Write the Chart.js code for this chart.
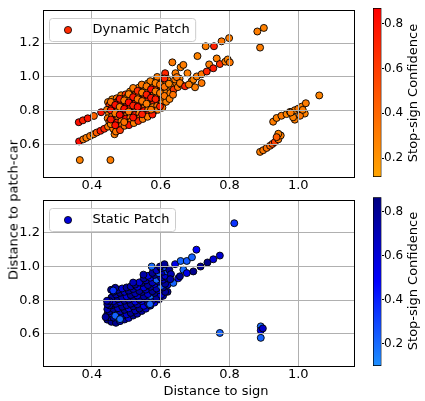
<!DOCTYPE html>
<html>
<head>
<meta charset="utf-8">
<script src="https://cdn.jsdelivr.net/npm/chart.js@4.4.1/dist/chart.umd.min.js"></script>
<style>
  html, body { margin: 0; padding: 0; background: #fff; }
  body { width: 425px; height: 401px; position: relative; overflow: hidden; }
  canvas { position: absolute; }
  .lbl { position: absolute; font: 13px "DejaVu Sans", sans-serif; line-height: 15px; white-space: nowrap; color: #000; }
</style>
</head>
<body>
<canvas id="cTop" width="360" height="190" style="left:0;top:0"></canvas>
<canvas id="cBot" width="360" height="211" style="left:0;top:190px"></canvas>
<canvas id="cbTop" width="65" height="190" style="left:360px;top:0"></canvas>
<canvas id="cbBot" width="65" height="211" style="left:360px;top:190px"></canvas>
<div class="lbl" style="left:12.5px;top:210px;transform:translate(-50%,-50%) rotate(-90deg)">Distance to patch-car</div>
<div class="lbl" style="left:216px;top:390px;transform:translate(-50%,-50%)">Distance to sign</div>
<div class="lbl" style="left:411.5px;top:93px;transform:translate(-50%,-50%) rotate(-90deg)">Stop-sign Confidence</div>
<div class="lbl" style="left:411.5px;top:281px;transform:translate(-50%,-50%) rotate(-90deg)">Stop-sign Confidence</div>
<script>
// ---------------- data ----------------
const dynName = 'Dynamic Patch';
const staName = 'Static Patch';
const xTickVals = [0.4, 0.6, 0.8, 1.0];
const xTickLabels = ['0.4', '0.6', '0.8', '1.0'];
const yTickVals = [0.6, 0.8, 1.0, 1.2];
const yTickLabels = ['0.6', '0.8', '1.0', '1.2'];
const cbTickVals = [0.2, 0.4, 0.6, 0.8];
const cbTickLabels = ['0.2', '0.4', '0.6', '0.8'];
const xRange = [0.258, 1.162];
const yRange = [0.41, 1.39];
const dynCRange = [0.116, 0.87];
const staCRange = [0.099, 0.866];

const dynX = [
  0.362,0.374,0.388,0.406,0.427,0.363,0.375,0.384,0.395,0.405,0.414,0.425,0.436,0.365,0.454,
  0.447,0.459,0.472,0.485,0.498,0.511,0.524,0.537,0.550,0.563,0.576,0.589,0.602,0.614,
  0.451,0.464,0.477,0.490,0.503,0.516,0.529,0.542,0.555,0.568,0.581,0.594,0.607,0.620,
  0.444,0.457,0.470,0.483,0.496,0.509,0.522,0.535,0.548,0.561,0.574,0.587,0.600,0.613,
  0.450,0.463,0.476,0.489,0.502,0.515,0.528,0.541,0.554,0.567,0.580,0.593,0.606,0.619,
  0.446,0.459,0.472,0.485,0.498,0.511,0.524,0.537,0.550,0.563,0.576,0.589,0.602,0.615,
  0.451,0.464,0.477,0.490,0.503,0.516,0.529,0.542,0.555,0.568,0.581,0.594,0.607,0.620,
  0.447,0.460,0.473,0.486,0.499,0.512,0.525,0.538,0.551,0.564,0.577,0.590,0.603,0.616,
  0.462,0.475,0.488,0.501,0.514,0.527,0.540,0.553,0.566,0.579,0.592,0.605,
  0.466,0.470,0.482,0.495,0.508,0.522,0.535,0.548,0.562,0.576,0.455,
  0.520,0.545,0.570,0.590,0.613,
  0.455,0.481,0.507,0.533,0.559,0.585,0.611,
  0.468,0.494,0.520,0.546,0.572,0.598,
  0.455,0.481,0.507,0.533,0.559,0.585,0.611,
  0.468,0.494,0.520,0.546,0.572,0.598,
  0.455,0.481,0.507,0.533,0.559,0.585,0.611,
  0.468,0.494,0.520,0.546,0.572,0.598,
  0.628,0.632,0.638,0.645,0.650,0.626,0.636,0.624,0.642,0.655,0.660,
  0.634,0.658,0.666,0.707,0.731,0.755,0.777,0.799,
  0.643,0.647,0.678,0.690,0.695,0.705,0.719,0.734,0.741,0.753,0.763,0.772,0.788,0.795,0.801,
  0.656,0.671,0.700,0.719,0.682,
  0.927,0.937,0.951,0.966,0.976,0.990,1.000,1.010,1.022,1.019,1.005,0.990,0.985,0.978,1.013,
  0.889,0.898,0.908,0.918,0.925,0.932,0.942,0.949,0.942,0.937,
  0.881,0.900,0.889,1.061
];
const dynY = [
  0.733,0.744,0.756,0.770,0.792,0.620,0.632,0.641,0.652,0.662,0.672,0.682,0.694,0.510,0.510,
  0.852,0.868,0.874,0.892,0.897,0.914,0.921,0.938,0.944,0.962,0.966,0.985,0.990,1.006,
  0.834,0.848,0.858,0.869,0.881,0.889,0.903,0.912,0.924,0.933,0.948,0.957,0.967,0.982,
  0.806,0.814,0.829,0.838,0.852,0.861,0.875,0.884,0.898,0.907,0.921,0.930,0.944,0.953,
  0.784,0.795,0.807,0.818,0.830,0.841,0.853,0.863,0.876,0.887,0.898,0.909,0.922,0.931,
  0.756,0.768,0.777,0.791,0.800,0.814,0.822,0.836,0.846,0.859,0.868,0.882,0.891,0.905,
  0.735,0.744,0.758,0.766,0.781,0.789,0.803,0.812,0.826,0.834,0.848,0.857,0.870,0.878,
  0.707,0.717,0.731,0.740,0.754,0.762,0.776,0.785,0.799,0.808,0.822,0.830,0.844,0.853,
  0.695,0.706,0.716,0.729,0.738,0.751,0.760,0.774,0.782,0.796,0.806,0.819,
  0.662,0.678,0.686,0.712,0.716,0.728,0.740,0.752,0.765,0.778,0.722,
  0.935,0.955,0.975,1.000,1.022,
  0.853,0.871,0.899,0.918,0.945,0.964,0.991,
  0.835,0.862,0.881,0.908,0.927,0.955,
  0.803,0.823,0.850,0.869,0.896,0.915,0.942,
  0.785,0.812,0.831,0.858,0.877,0.905,
  0.749,0.777,0.796,0.823,0.842,0.869,0.888,
  0.715,0.734,0.761,0.780,0.807,0.826,
  0.905,0.945,0.925,0.965,0.940,0.870,0.895,0.960,0.985,0.990,0.955,
  1.086,1.057,1.071,1.123,1.181,1.181,1.210,1.229,
  1.022,0.999,1.022,0.975,0.984,1.003,1.016,1.032,1.074,1.051,1.109,1.076,1.090,1.103,1.086,
  0.964,0.945,0.939,0.964,0.955,
  0.736,0.758,0.771,0.781,0.794,0.804,0.813,0.825,0.845,0.784,0.771,0.748,0.762,0.790,0.806,
  0.558,0.568,0.581,0.594,0.605,0.616,0.632,0.655,0.665,0.645,
  1.268,1.289,1.173,0.891
];
const dynC = [
  0.80,0.72,0.78,0.42,0.78,0.82,0.35,0.30,0.32,0.30,0.45,0.76,0.70,0.28,0.30,
  0.30,0.22,0.35,0.28,0.62,0.25,0.32,0.27,0.55,0.24,0.30,0.26,0.33,0.28,
  0.65,0.30,0.72,0.33,0.28,0.70,0.30,0.38,0.26,0.62,0.29,0.34,0.25,0.30,
  0.32,0.75,0.30,0.80,0.36,0.30,0.78,0.33,0.68,0.30,0.27,0.72,0.31,0.26,
  0.28,0.70,0.34,0.82,0.75,0.32,0.80,0.30,0.66,0.35,0.29,0.76,0.30,0.27,
  0.33,0.30,0.78,0.35,0.84,0.70,0.34,0.77,0.31,0.64,0.28,0.33,0.70,0.29,
  0.30,0.72,0.36,0.80,0.33,0.82,0.30,0.74,0.36,0.30,0.68,0.31,0.27,0.33,
  0.34,0.28,0.76,0.32,0.80,0.35,0.72,0.30,0.78,0.33,0.29,0.35,0.30,0.28,
  0.30,0.66,0.34,0.79,0.31,0.74,0.33,0.30,0.70,0.34,0.29,0.31,
  0.30,0.33,0.62,0.36,0.80,0.30,0.70,0.32,0.29,0.75,0.27,
  0.30,0.33,0.27,0.31,0.70,
  0.36,0.74,0.30,0.66,0.32,0.28,0.72,
  0.80,0.34,0.76,0.30,0.82,0.33,
  0.78,0.30,0.84,0.36,0.74,0.30,0.35,
  0.32,0.80,0.72,0.34,0.78,0.30,
  0.76,0.82,0.35,0.80,0.30,0.72,0.33,
  0.80,0.36,0.78,0.74,0.32,0.70,
  0.30,0.28,0.62,0.30,0.33,0.29,0.35,0.27,0.31,0.28,0.30,
  0.32,0.28,0.30,0.27,0.29,0.72,0.33,0.30,
  0.30,0.34,0.29,0.31,0.27,0.30,0.33,0.70,0.30,0.75,0.28,0.62,0.30,0.27,0.32,
  0.31,0.70,0.29,0.32,0.30,
  0.30,0.28,0.32,0.27,0.30,0.29,0.31,0.28,0.30,0.27,0.33,0.30,0.28,0.31,0.29,
  0.30,0.32,0.35,0.40,0.50,0.58,0.32,0.30,0.28,0.45,
  0.30,0.28,0.30,0.27
];

const staX = [
  0.445,0.457,0.470,0.482,0.495,0.507,0.520,0.532,0.545,0.557,0.570,0.582,0.595,0.607,0.620,
  0.451,0.463,0.476,0.488,0.501,0.513,0.526,0.538,0.551,0.563,0.576,0.588,0.601,0.613,
  0.445,0.457,0.470,0.482,0.495,0.507,0.520,0.532,0.545,0.557,0.570,0.582,0.595,0.607,0.620,
  0.451,0.463,0.476,0.488,0.501,0.513,0.526,0.538,0.551,0.563,0.576,0.588,0.601,0.613,
  0.445,0.457,0.470,0.482,0.495,0.507,0.520,0.532,0.545,0.557,0.570,0.582,0.595,0.607,0.620,
  0.451,0.463,0.476,0.488,0.501,0.513,0.526,0.538,0.551,0.563,0.576,0.588,0.601,0.613,
  0.445,0.457,0.470,0.482,0.495,0.507,0.520,0.532,0.545,0.557,0.570,0.582,0.595,0.607,0.620,
  0.451,0.463,0.476,0.488,0.501,0.513,0.526,0.538,0.551,0.563,0.576,0.588,0.601,0.613,
  0.456,0.468,0.462,0.444,0.440,0.468,0.482,0.569,0.574,0.598,0.611,0.520,0.550,
  0.625,0.637,0.642,0.651,0.656,0.658,0.666,0.676,0.676,0.691,0.695,0.704,0.716,0.736,0.753,0.772,0.630,0.628,
  0.814,0.772,0.891,0.891,0.897,0.891
];
const staY = [
  0.685,0.672,0.666,0.676,0.686,0.695,0.709,0.720,0.736,0.750,0.768,0.786,0.805,0.826,0.850,
  0.700,0.697,0.698,0.707,0.716,0.725,0.739,0.751,0.767,0.782,0.800,0.815,0.832,0.850,
  0.717,0.722,0.725,0.734,0.743,0.752,0.764,0.776,0.795,0.809,0.826,0.843,0.860,0.876,0.892,
  0.735,0.748,0.753,0.762,0.771,0.779,0.792,0.805,0.823,0.837,0.854,0.870,0.884,0.898,
  0.747,0.770,0.779,0.789,0.797,0.804,0.815,0.828,0.849,0.863,0.880,0.897,0.910,0.922,0.931,
  0.770,0.795,0.806,0.816,0.824,0.831,0.842,0.855,0.876,0.890,0.906,0.922,0.935,0.945,
  0.777,0.816,0.834,0.844,0.850,0.857,0.867,0.880,0.903,0.918,0.934,0.950,0.961,0.969,0.970,
  0.795,0.850,0.862,0.870,0.876,0.882,0.893,0.906,0.930,0.945,0.962,0.978,0.990,0.996,
  0.862,0.874,0.858,0.797,0.700,0.708,0.688,0.777,1.000,1.000,1.014,0.905,0.952,
  0.981,0.903,1.014,0.930,0.942,1.033,0.981,0.961,1.033,1.055,0.971,1.100,1.000,1.024,1.043,1.065,0.955,0.925,
  1.257,0.606,0.645,0.621,0.633,0.577
];
const staC = [
  0.78,0.80,0.82,0.70,0.78,0.60,0.80,0.72,0.78,0.65,0.80,0.55,0.78,0.70,0.80,
  0.70,0.78,0.22,0.80,0.62,0.80,0.70,0.82,0.55,0.78,0.70,0.80,0.60,0.78,
  0.80,0.62,0.78,0.70,0.82,0.55,0.80,0.74,0.60,0.80,0.20,0.78,0.68,0.80,0.58,
  0.78,0.80,0.66,0.82,0.72,0.80,0.58,0.80,0.76,0.62,0.80,0.72,0.25,0.78,
  0.72,0.82,0.78,0.60,0.80,0.74,0.82,0.62,0.80,0.70,0.78,0.55,0.80,0.66,0.78,
  0.80,0.65,0.82,0.76,0.58,0.80,0.72,0.80,0.60,0.78,0.70,0.22,0.78,0.62,
  0.78,0.80,0.72,0.82,0.66,0.80,0.74,0.58,0.80,0.70,0.56,0.80,0.24,0.72,0.30,
  0.70,0.82,0.78,0.60,0.80,0.72,0.80,0.62,0.78,0.55,0.80,0.66,0.78,0.28,
  0.80,0.78,0.35,0.72,0.78,0.22,0.20,0.22,0.20,0.80,0.80,0.70,0.75,
  0.80,0.22,0.55,0.55,0.82,0.22,0.20,0.55,0.25,0.22,0.82,0.50,0.82,0.84,0.60,0.62,0.70,0.75,
  0.35,0.22,0.20,0.55,0.65,0.22
];

// ---------------- styling helpers ----------------
const FONT = '"DejaVu Sans", sans-serif';
Chart.defaults.font.family = FONT;
Chart.defaults.font.size = 13;
Chart.defaults.color = '#000';

function lerp(a, b, t) { return a + (b - a) * t; }
function clamp01(t) { return Math.max(0, Math.min(1, t)); }
function makeCmap(stops, range) {
  return function (v) {
    const t = clamp01((v - range[0]) / (range[1] - range[0]));
    let i = 0;
    while (i < stops.length - 2 && t > stops[i + 1][0]) i++;
    const s0 = stops[i], s1 = stops[i + 1];
    const u = clamp01((t - s0[0]) / (s1[0] - s0[0]));
    const r = Math.round(lerp(s0[1], s1[1], u));
    const g = Math.round(lerp(s0[2], s1[2], u));
    const b = Math.round(lerp(s0[3], s1[3], u));
    return 'rgb(' + r + ',' + g + ',' + b + ')';
  };
}
const cmapDyn = makeCmap([[0, 255, 165, 0], [1, 255, 0, 0]], dynCRange);
const cmapSta = makeCmap([[0, 30, 144, 255], [0.5, 0, 0, 255], [1, 0, 0, 128]], staCRange);

function makeMarker(color) {
  const c = document.createElement('canvas');
  c.width = 10; c.height = 10;
  const g = c.getContext('2d');
  g.beginPath(); g.arc(5, 5, 3.6, 0, Math.PI * 2);
  g.fillStyle = color; g.fill();
  g.lineWidth = 0.8; g.strokeStyle = '#000'; g.stroke();
  return c;
}

// legend drawn on top of grid & data, with a matplotlib-like frame
const legendFrame = {
  id: 'legendFrame',
  beforeUpdate(chart) {
    const L = chart.legend;
    if (!L || L._frameLayer) return;
    L._frameLayer = true;
    L._layers = () => [{
      z: 10,
      draw: () => {
        const ca = chart.chartArea, ctx = chart.ctx;
        if (!L.legendItems || !L.legendItems.length) return;
        const fx = ca.left + 6, fy = Math.round(ca.top) + 7, fh = 23;
        const mx = Math.round(ca.left + 25), my = fy + 12;
        ctx.save();
        ctx.font = '13px ' + FONT;
        const tw = ctx.measureText(L.legendItems[0].text).width;
        const fw = (mx + 24.5 + tw + 5.5) - fx;
        ctx.beginPath();
        if (ctx.roundRect) ctx.roundRect(fx + 0.5, fy + 0.5, fw, fh, 3);
        else ctx.rect(fx + 0.5, fy + 0.5, fw, fh);
        ctx.fillStyle = 'rgba(255,255,255,0.8)';
        ctx.fill();
        ctx.lineWidth = 1;
        ctx.strokeStyle = '#cccccc';
        ctx.stroke();
        ctx.restore();
        L.left = mx - 18; L.top = my - 6.5;
        L.right = L.left + 300; L.bottom = L.top + 40;
        L.draw();
      }
    }];
  }
};

function tickSetter(vals) {
  return function (scale) { scale.ticks = vals.map(v => ({ value: v })); };
}

function scatterChart(id, xs, ys, cs, cmap, name, legendColor, padTop, xAxisH) {
  const pts = xs.map((x, i) => ({ x: x, y: ys[i] }));
  const marker = makeMarker(legendColor);
  return new Chart(document.getElementById(id), {
    type: 'scatter',
    data: {
      datasets: [{
        label: name,
        data: pts,
        pointRadius: 3.5,
        pointHoverRadius: 3.5,
        pointBorderWidth: 0.9,
        pointBorderColor: '#000',
        pointBackgroundColor: (ctx) => cmap(cs[ctx.dataIndex])
      }]
    },
    options: {
      responsive: false,
      animation: false,
      events: [],
      layout: { padding: { left: 0, top: padTop, right: 6, bottom: 0 } },
      plugins: {
        tooltip: { enabled: false },
        legend: {
          display: true,
          position: 'chartArea',
          align: 'start',
          labels: {
            usePointStyle: true,
            pointStyleWidth: 36,
            boxHeight: 7,
            padding: 0,
            color: '#000',
            font: { size: 13, family: FONT },
            generateLabels: () => [{
              text: name, pointStyle: marker, fillStyle: legendColor,
              strokeStyle: '#000', lineWidth: 0.8, hidden: false, datasetIndex: 0
            }]
          }
        }
      },
      scales: {
        x: {
          type: 'linear', position: 'bottom',
          min: xRange[0], max: xRange[1],
          afterBuildTicks: tickSetter(xTickVals),
          afterFit: (s) => { s.height = xAxisH; },
          grid: { color: '#b0b0b0', lineWidth: 1, drawTicks: false, z: 1 },
          border: { display: true, color: '#000', width: 1, z: 2 },
          ticks: { padding: 1, color: '#000', font: { size: 13, family: FONT }, maxRotation: 0, autoSkip: false,
                   callback: (v, i) => xTickLabels[i] }
        },
        y: {
          type: 'linear', position: 'left',
          min: yRange[0], max: yRange[1],
          afterBuildTicks: tickSetter(yTickVals),
          afterFit: (s) => { s.width = 43; },
          grid: { color: '#b0b0b0', lineWidth: 1, drawTicks: false, z: 1 },
          border: { display: true, color: '#000', width: 1, z: 2 },
          ticks: { padding: 3, color: '#000', font: { size: 13, family: FONT },
                   callback: (v, i) => yTickLabels[i] }
        },
        xTop: {
          type: 'linear', position: 'top', display: true,
          afterFit: (s) => { s.height = 0; },
          grid: { display: false, drawTicks: false },
          border: { display: true, color: '#000', width: 1, z: 2 },
          ticks: { display: false }
        },
        yRight: {
          type: 'linear', position: 'right', display: true,
          afterFit: (s) => { s.width = 0; },
          grid: { display: false, drawTicks: false },
          border: { display: true, color: '#000', width: 1, z: 2 },
          ticks: { display: false }
        }
      }
    },
    plugins: [legendFrame]
  });
}

function colorbarChart(id, range, cmap, padTop, padBottom) {
  return new Chart(document.getElementById(id), {
    type: 'bar',
    data: {
      labels: [''],
      datasets: [{
        data: [[range[0], range[1]]],
        backgroundColor: (ctx) => {
          const ch = ctx.chart;
          const ys = ch.scales.y;
          if (!ch.chartArea || !ys) return 'rgba(0,0,0,0)';
          const y0 = ys.getPixelForValue(range[0]);
          const y1 = ys.getPixelForValue(range[1]);
          const grad = ch.ctx.createLinearGradient(0, y0, 0, y1);
          for (let i = 0; i <= 20; i++) {
            const t = i / 20;
            grad.addColorStop(t, cmap(range[0] + t * (range[1] - range[0])));
          }
          return grad;
        },
        borderColor: '#000',
        borderWidth: 1,
        borderSkipped: false,
        barPercentage: 1,
        categoryPercentage: 1
      }]
    },
    options: {
      responsive: false,
      animation: false,
      events: [],
      layout: { padding: { left: 13, top: padTop, right: 0, bottom: padBottom } },
      plugins: { legend: { display: false }, tooltip: { enabled: false } },
      scales: {
        x: { display: false },
        y: {
          position: 'right',
          min: range[0], max: range[1],
          afterBuildTicks: tickSetter(cbTickVals),
          afterFit: (s) => { s.width = 43.5; },
          grid: { display: true, drawOnChartArea: false, drawTicks: true, tickLength: 2.5, color: '#000', lineWidth: 1 },
          border: { display: false },
          ticks: { padding: 0, color: '#000', font: { size: 12, family: FONT },
                   callback: (v, i) => cbTickLabels[i] }
        }
      }
    }
  });
}

scatterChart('cTop', dynX, dynY, dynC, cmapDyn, dynName, cmapDyn(0.68), 8, 13);
scatterChart('cBot', staX, staY, staC, cmapSta, staName, cmapSta(0.6), 6, 35);
colorbarChart('cbTop', dynCRange, cmapDyn, 8, 13);
colorbarChart('cbBot', staCRange, cmapSta, 6, 35);
</script>
</body>
</html>
